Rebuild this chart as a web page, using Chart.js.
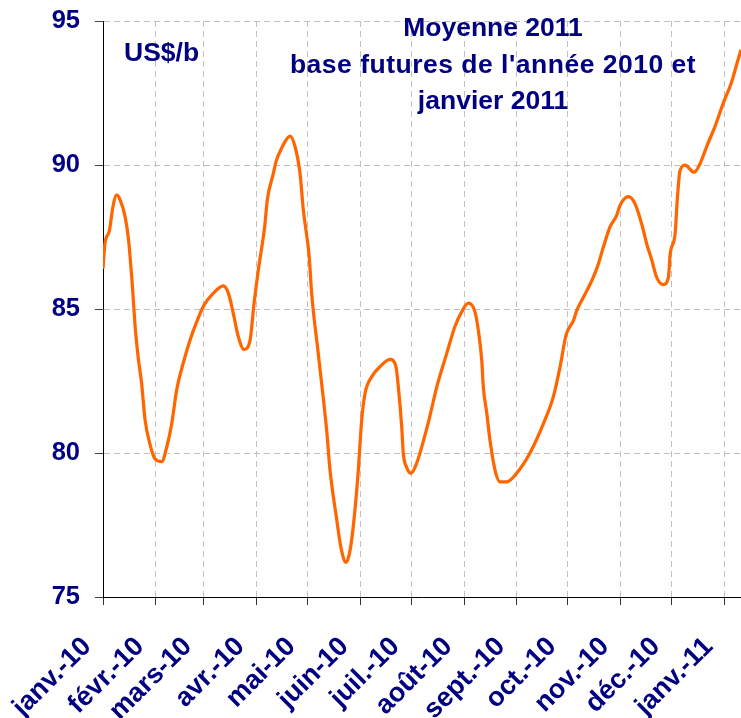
<!DOCTYPE html>
<html>
<head>
<meta charset="utf-8">
<script src="https://cdn.jsdelivr.net/npm/chart.js@4.4.1/dist/chart.umd.min.js"></script>
<style>
  body { margin: 0; background: #fff; }
  #wrap { width: 741px; height: 718px; }
</style>
</head>
<body>
<div id="wrap"><canvas id="lineChart" width="741" height="718"></canvas></div>
<script>
// days counted from 1 Jan 2010
var monthDays = [0, 31, 59, 90, 120, 151, 181, 212, 243, 273, 304, 334, 365];
var monthLabels = ["janv.-10", "févr.-10", "mars-10", "avr.-10", "mai-10", "juin-10", "juil.-10",
                   "août-10", "sept.-10", "oct.-10", "nov.-10", "déc.-10", "janv.-11"];
var yTicks = [75, 80, 85, 90, 95];

var days = [0, 1.2, 3.7, 5.7, 8, 10, 13, 15, 17, 19, 20.7, 22.7, 24.7, 27.6, 30.5, 34.5, 37.4, 40.3,
            43.3, 47, 51, 55, 59, 64.8, 70.6, 73.6, 76.5, 79.4, 82.8, 86.3, 88.7, 91.2, 95, 96.5,
            100, 101.5, 105, 109.8, 112.7, 115.7, 117.6, 121.1, 122.5, 126.4, 131.3, 133.3, 137.2,
            139.6, 142.7, 145, 147.4, 149.9, 151.9, 153.8, 157.8, 162.7, 168.5, 172, 173.4, 175.4,
            176.3, 178.3, 180.7, 184.2, 188.5, 192, 196, 201.8, 206.7, 210.6, 214.5, 218.4, 220.4,
            222.4, 223.3, 225.3, 227.2, 230.2, 233.1, 237, 242.9, 250.7, 259.5, 264.4, 268.4,
            271.9, 276.2, 278.2, 282, 287.5, 290.5, 293.8, 297.7, 301.6, 303.6, 308.5, 312.4,
            316.3, 319.3, 322.2, 325.1, 329, 332, 333, 335.9, 337.3, 338.8, 341.7, 347, 350.6,
            354.5, 359.4, 364.2, 369.2, 372.1, 374.6];
var prices = [86.4, 87.3, 87.7, 88.5, 88.95, 88.8, 88.2, 87.4, 86.0, 84.3, 83.3, 82.4, 81.15, 80.3,
              79.8, 79.7, 80.2, 81.0, 82.2, 83.1, 83.9, 84.55, 85.1, 85.55, 85.8, 85.55, 84.85,
              84.05, 83.6, 83.9, 85.2, 86.35, 87.9, 88.8, 89.7, 90.1, 90.6, 91.0, 90.65, 89.7,
              88.45, 86.8, 85.55, 83.45, 80.8, 79.4, 77.7, 76.75, 76.2, 76.6, 77.7, 79.4, 81.15,
              82.05, 82.65, 83.0, 83.25, 83.0, 82.3, 80.9, 80.0, 79.5, 79.3, 79.65, 80.5, 81.3,
              82.3, 83.45, 84.4, 84.9, 85.2, 84.9, 84.25, 83.2, 82.3, 81.4, 80.45, 79.4, 79.0,
              79.0, 79.3, 80.0, 81.15, 81.95, 83.0, 84.1, 84.6, 84.95, 85.4, 86.05, 86.5, 87.15,
              87.85, 88.25, 88.6, 88.9, 88.65, 87.95, 87.25, 86.7, 86.1, 85.85, 86.1, 86.9, 87.6,
              88.9, 89.8, 90.0, 89.75, 90.05, 90.65, 91.35, 92.15, 92.9, 93.5, 94.0];
var xMax = 374.6;

var titleLines = ["Moyenne 2011", "base futures de l'année 2010 et", "janvier 2011"];
var unitLabel = "US$/b";

var navy = '#000080';
var fontFamily = '"Liberation Sans", Arial, sans-serif';

var textPlugin = {
    id: 'chartTexts',
    afterDraw: function (chart) {
        var ctx = chart.ctx;
        ctx.save();
        ctx.fillStyle = navy;
        ctx.font = 'bold 26.5px ' + fontFamily;
        ctx.textAlign = 'center';
        ctx.textBaseline = 'alphabetic';
        for (var i = 0; i < titleLines.length; i++) {
            // the middle line is spread a little wider in the original
            ctx.letterSpacing = (i === 1) ? '0.5px' : '0px';
            ctx.fillText(titleLines[i], 493, 36 + i * 36.7);
        }
        ctx.letterSpacing = '0px';
        ctx.textAlign = 'left';
        ctx.fillText(unitLabel, 124, 61);
        ctx.restore();
    }
};

function loadChart() {
    var ctx = document.getElementById("lineChart").getContext('2d');
    var points = days.map(function (d, i) { return { x: d, y: prices[i] }; });
    new Chart(ctx, {
        type: 'line',
        data: {
            datasets: [{
                data: points,
                borderColor: '#ff6600',
                borderWidth: 3.25,
                pointRadius: 0,
                cubicInterpolationMode: 'monotone',
                fill: false
            }]
        },
        options: {
            responsive: false,
            animation: false,
            events: [],
            layout: { padding: { top: 21, right: 0, left: 0, bottom: 0 } },
            plugins: { legend: { display: false }, tooltip: { enabled: false } },
            scales: {
                x: {
                    type: 'linear',
                    min: 0,
                    max: xMax,
                    afterBuildTicks: function (s) {
                        s.ticks = monthDays.map(function (v) { return { value: v }; });
                    },
                    afterFit: function (s) {
                        s.height = 121;
                        s.paddingLeft = 0;
                        s.paddingRight = 0;
                    },
                    grid: {
                        color: '#c0c0c0',
                        tickColor: '#333',
                        tickLength: 8
                    },
                    border: { display: true, color: '#000', width: 1, dash: [6, 4] },
                    ticks: {
                        autoSkip: false,
                        minRotation: 45,
                        maxRotation: 45,
                        padding: 10,
                        color: navy,
                        font: { family: fontFamily, size: 27, weight: 'bold' },
                        // trailing spaces pull the rotated label back from the tick like in Excel
                        callback: function (v, i) { return monthLabels[i] + '   '; }
                    }
                },
                y: {
                    min: 75,
                    max: 95,
                    afterBuildTicks: function (s) {
                        s.ticks = yTicks.map(function (v) { return { value: v }; });
                    },
                    afterFit: function (s) {
                        s.width = 103;
                        s.paddingTop = 0;
                        s.paddingBottom = 0;
                    },
                    grid: {
                        color: '#c0c0c0',
                        tickColor: '#444',
                        tickLength: 8
                    },
                    border: { display: true, color: '#000', width: 1, dash: [6, 4] },
                    ticks: {
                        padding: 15,
                        color: navy,
                        font: { family: fontFamily, size: 25.5, weight: 'bold' }
                    }
                }
            }
        },
        plugins: [textPlugin]
    });
}
loadChart();
</script>
</body>
</html>
